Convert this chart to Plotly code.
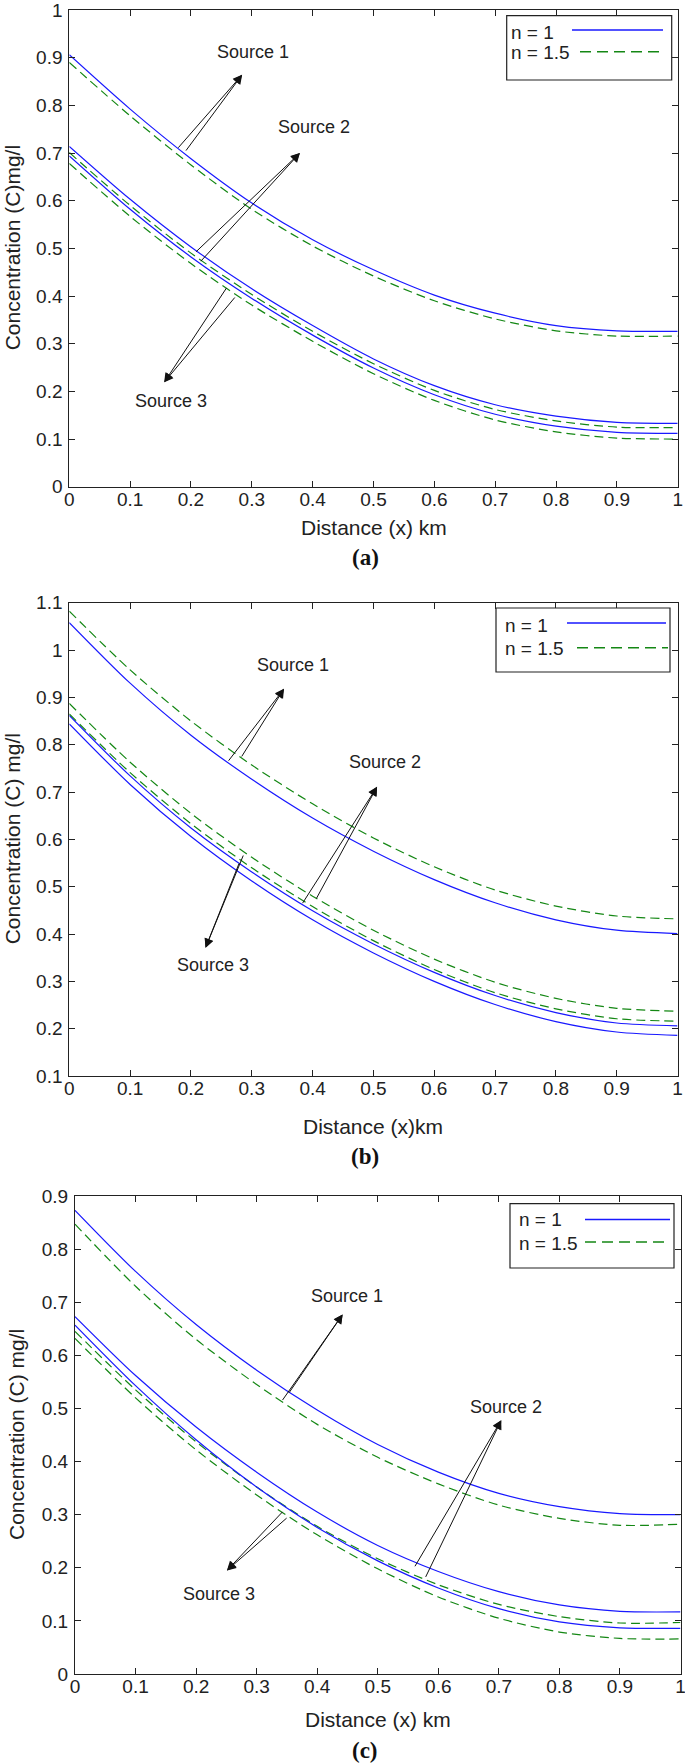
import plotly.graph_objects as go

W, H = 685, 1763

X = [0, 0.1, 0.2, 0.3, 0.4, 0.5, 0.6, 0.7, 0.8, 0.9, 1.0]

# panel (a)
A_S1_N1 = [0.906, 0.792, 0.688, 0.595, 0.518, 0.455, 0.402, 0.364, 0.338, 0.327, 0.326]
A_S1_N15 = [0.890, 0.778, 0.675, 0.582, 0.505, 0.442, 0.390, 0.352, 0.327, 0.316, 0.316]
A_S2_N1 = [0.714, 0.603, 0.503, 0.415, 0.338, 0.268, 0.212, 0.172, 0.148, 0.135, 0.133]
A_S2_N15 = [0.701, 0.590, 0.490, 0.403, 0.326, 0.258, 0.202, 0.162, 0.138, 0.125, 0.124]
A_S3_N1 = [0.694, 0.582, 0.482, 0.395, 0.318, 0.249, 0.193, 0.152, 0.127, 0.114, 0.112]
A_S3_N15 = [0.678, 0.567, 0.468, 0.381, 0.305, 0.237, 0.181, 0.140, 0.115, 0.102, 0.100]

# panel (b)
B_S1_N1 = [1.058, 0.930, 0.820, 0.727, 0.645, 0.575, 0.515, 0.466, 0.430, 0.408, 0.401]
B_S1_N15 = [1.082, 0.958, 0.850, 0.757, 0.675, 0.603, 0.542, 0.493, 0.459, 0.438, 0.432]
B_S2_N1 = [0.862, 0.734, 0.624, 0.531, 0.449, 0.379, 0.319, 0.270, 0.234, 0.212, 0.206]
B_S2_N15 = [0.887, 0.763, 0.655, 0.562, 0.480, 0.408, 0.347, 0.298, 0.264, 0.243, 0.237]
B_S3_N1 = [0.844, 0.716, 0.606, 0.512, 0.430, 0.360, 0.300, 0.251, 0.215, 0.193, 0.186]
B_S3_N15 = [0.865, 0.741, 0.633, 0.540, 0.458, 0.386, 0.325, 0.276, 0.242, 0.221, 0.216]

# panel (c)
C_S1_N1 = [0.873, 0.758, 0.658, 0.572, 0.497, 0.432, 0.380, 0.340, 0.315, 0.302, 0.300]
C_S1_N15 = [0.847, 0.730, 0.630, 0.545, 0.470, 0.408, 0.358, 0.318, 0.293, 0.280, 0.282]
C_S2_N1 = [0.673, 0.562, 0.465, 0.380, 0.305, 0.242, 0.193, 0.155, 0.130, 0.118, 0.117]
C_S2_N15 = [0.645, 0.535, 0.437, 0.352, 0.278, 0.217, 0.168, 0.131, 0.108, 0.096, 0.097]
C_S3_N1 = [0.657, 0.543, 0.441, 0.352, 0.276, 0.213, 0.162, 0.123, 0.098, 0.087, 0.086]
C_S3_N15 = [0.632, 0.520, 0.422, 0.337, 0.262, 0.198, 0.145, 0.105, 0.079, 0.067, 0.066]

X_TICKTEXT = ["0", "0.1", "0.2", "0.3", "0.4", "0.5", "0.6", "0.7", "0.8", "0.9", "1"]

# arrow annotations: (label, text x, text y, head x, head y, [tails])
A_ARROWS = [
    ("Source 1", 0.302, 0.912, 0.284, 0.864, [(0.177, 0.708), (0.190, 0.702)]),
    ("Source 2", 0.402, 0.755, 0.379, 0.700, [(0.206, 0.490), (0.214, 0.470)]),
    ("Source 3", 0.167, 0.180, 0.156, 0.219, [(0.260, 0.420), (0.274, 0.400)]),
]
B_ARROWS = [
    ("Source 1", 0.368, 0.968, 0.353, 0.918, [(0.260, 0.763), (0.282, 0.772)]),
    ("Source 2", 0.519, 0.764, 0.506, 0.711, [(0.382, 0.462), (0.405, 0.472)]),
    ("Source 3", 0.236, 0.334, 0.224, 0.371, [(0.280, 0.552), (0.287, 0.569)]),
]
C_ARROWS = [
    ("Source 1", 0.449, 0.712, 0.442, 0.677, [(0.341, 0.513), (0.352, 0.527)]),
    ("Source 2", 0.711, 0.502, 0.704, 0.478, [(0.560, 0.200), (0.578, 0.180)]),
    ("Source 3", 0.237, 0.150, 0.251, 0.195, [(0.345, 0.308), (0.352, 0.296)]),
]

BLUE = "rgb(25,25,255)"
GREEN = "rgb(20,135,20)"
FONT = "Liberation Sans, Arial, sans-serif"


def px_x(x):
    return x / W


def px_y(y):
    return 1 - y / H


fig = go.Figure()

panels = [
    dict(
        key="",
        series=[A_S1_N1, A_S1_N15, A_S2_N1, A_S2_N15, A_S3_N1, A_S3_N15],
        arrows=A_ARROWS,
        box=(69.3, 677.7, 10, 486.7),
        yrange=[0, 1],
        ytitle="Concentration (C)mg/l",
        ytitle_x=12,
        xtitle="Distance (x) km",
        xtitle_y=528,
        label="(a)",
        label_y=557,
        legend=dict(box=(506.7, 671.7, 15.7, 80), text_x=509, rows=(32, 52),
                    blue=(572, 663, 30), green=(580, 665, 51.7)),
    ),
    dict(
        key="2",
        series=[B_S1_N1, B_S1_N15, B_S2_N1, B_S2_N15, B_S3_N1, B_S3_N15],
        arrows=B_ARROWS,
        box=(69.3, 677.5, 602.7, 1076),
        yrange=[0.1, 1.1],
        ytitle="Concentration (C) mg/l",
        ytitle_x=12,
        xtitle="Distance (x)km",
        xtitle_y=1126,
        label="(b)",
        label_y=1156,
        legend=dict(box=(496, 670, 608, 672), text_x=503, rows=(625, 648),
                    blue=(567, 666, 623), green=(577, 668, 647.7)),
    ),
    dict(
        key="3",
        series=[C_S1_N1, C_S1_N15, C_S2_N1, C_S2_N15, C_S3_N1, C_S3_N15],
        arrows=C_ARROWS,
        box=(75, 680.5, 1196, 1674),
        yrange=[0, 0.9],
        ytitle="Concentration (C) mg/l",
        ytitle_x=16,
        xtitle="Distance (x) km",
        xtitle_y=1719,
        label="(c)",
        label_y=1750,
        legend=dict(box=(510, 674, 1203.6, 1268), text_x=517, rows=(1219.5, 1243),
                    blue=(585, 670, 1219.5), green=(585, 668, 1242)),
    ),
]

annotations = []
shapes = []
layout_axes = {}

for p in panels:
    k = p["key"]
    xa, ya = "x" + k, "y" + k
    x0, x1, y0, y1 = p["box"]

    # curves: blue solid for n = 1, green dashed for n = 1.5
    for i, s in enumerate(p["series"]):
        n1 = i % 2 == 0
        fig.add_trace(
            go.Scatter(
                x=X,
                y=s,
                mode="lines",
                name="n = 1" if n1 else "n = 1.5",
                line=dict(
                    color=BLUE if n1 else GREEN,
                    width=1.2,
                    dash="solid" if n1 else "9px,5px",
                    shape="spline",
                    smoothing=0.8,
                ),
                xaxis=xa,
                yaxis=ya,
                showlegend=False,
            )
        )

    axis_common = dict(
        showline=True,
        linecolor="#222",
        linewidth=1,
        mirror="ticks",
        ticks="inside",
        ticklen=6,
        tickcolor="#222",
        showgrid=False,
        zeroline=False,
        automargin=False,
        ticklabeloverflow="allow",
        tickfont=dict(family=FONT, size=19, color="#222"),
    )
    layout_axes["xaxis" + k] = dict(
        axis_common,
        domain=[px_x(x0), px_x(x1)],
        anchor=ya,
        range=[0, 1],
        tickmode="array",
        tickvals=X,
        ticktext=X_TICKTEXT,
        ticklabelstandoff=-5,
    )
    yt = [round(p["yrange"][0] + 0.1 * j, 1) for j in range(round((p["yrange"][1] - p["yrange"][0]) * 10) + 1)]
    layout_axes["yaxis" + k] = dict(
        axis_common,
        domain=[px_y(y1), px_y(y0)],
        anchor=xa,
        range=p["yrange"],
        tickmode="array",
        tickvals=yt,
        ticktext=[("%g" % v) for v in yt],
        ticklabelstandoff=2,
    )

    # source arrows and labels
    for label, tx, ty, hx, hy, tails in p["arrows"]:
        annotations.append(dict(
            x=tx, y=ty, xref=xa, yref=ya, text=label, showarrow=False,
            font=dict(family=FONT, size=18, color="#222"),
        ))
        for (ax_, ay_) in tails:
            annotations.append(dict(
                x=hx, y=hy, ax=ax_, ay=ay_, xref=xa, yref=ya, axref=xa, ayref=ya,
                text="", showarrow=True, arrowhead=2, arrowsize=1.8,
                arrowwidth=1, arrowcolor="#111",
            ))

    # axis titles
    annotations.append(dict(
        x=px_x((x0 + x1) / 2), y=px_y(p["xtitle_y"]), xref="paper", yref="paper",
        text=p["xtitle"], showarrow=False, xanchor="center", yanchor="middle",
        font=dict(family=FONT, size=21, color="#222"),
    ))
    annotations.append(dict(
        x=px_x(p["ytitle_x"]), y=px_y((y0 + y1) / 2), xref="paper", yref="paper",
        text=p["ytitle"], showarrow=False, textangle=-90, xanchor="center", yanchor="middle",
        font=dict(family=FONT, size=21, color="#222"),
    ))
    annotations.append(dict(
        x=px_x(365), y=px_y(p["label_y"]), xref="paper", yref="paper",
        text="<b>" + p["label"] + "</b>", showarrow=False, xanchor="center", yanchor="middle",
        font=dict(family="Liberation Serif, Times New Roman, serif", size=23, color="#111"),
    ))

    # legend box
    lg = p["legend"]
    bx0, bx1, by0, by1 = lg["box"]
    shapes.append(dict(
        type="rect", xref="paper", yref="paper",
        x0=px_x(bx0), x1=px_x(bx1), y0=px_y(by1), y1=px_y(by0),
        line=dict(color="#222", width=1.2), fillcolor="white", layer="above",
    ))
    for name, row in zip(["n = 1", "n = 1.5"], lg["rows"]):
        annotations.append(dict(
            x=px_x(lg["text_x"]), y=px_y(row), xref="paper", yref="paper",
            text=name, showarrow=False, xanchor="left", yanchor="middle",
            font=dict(family=FONT, size=19, color="#222"),
        ))
    for key, color, dash in [("blue", BLUE, "solid"), ("green", GREEN, "11px,6px")]:
        lx0, lx1, ly = lg[key]
        shapes.append(dict(
            type="line", xref="paper", yref="paper",
            x0=px_x(lx0), x1=px_x(lx1), y0=px_y(ly), y1=px_y(ly),
            line=dict(color=color, width=1.4, dash=dash), layer="above",
        ))

fig.update_layout(
    width=W,
    height=H,
    margin=dict(l=0, r=0, t=0, b=0),
    paper_bgcolor="white",
    plot_bgcolor="white",
    showlegend=False,
    annotations=annotations,
    shapes=shapes,
    **layout_axes,
)

# drop the browser's default page margin so the figure sits at the top-left corner
fig.write_html(
    "out.html",
    config={"displayModeBar": False},
    post_script="document.body.style.margin = '0';",
)
